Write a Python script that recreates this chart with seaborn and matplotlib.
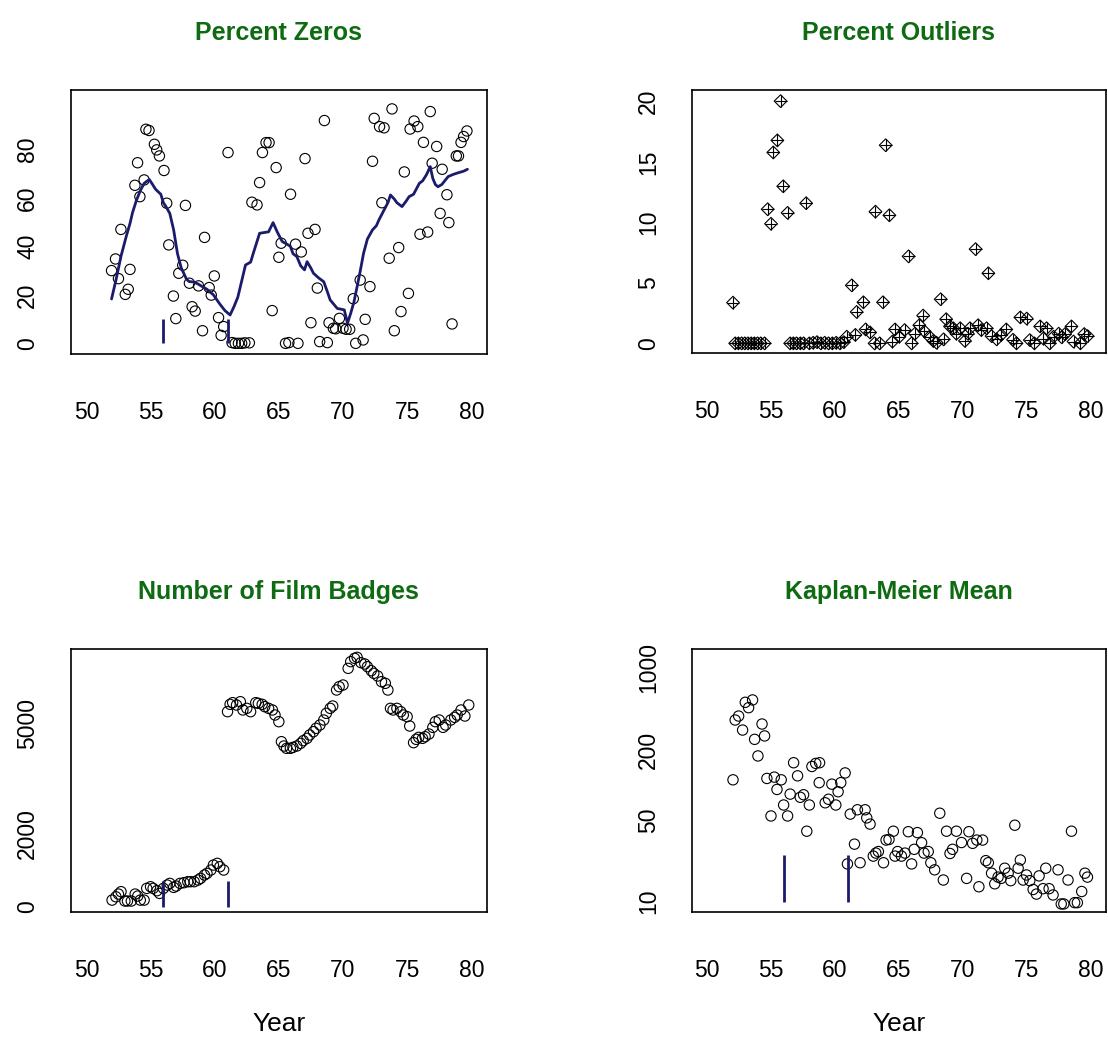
import numpy as np
import pandas as pd
import matplotlib
matplotlib.use("Agg")
import matplotlib.pyplot as plt
import seaborn as sns

# ---- Percent Zeros: quarterly values and running mean ----
zeros_year = [51.96, 52.27, 52.5, 52.69, 53.03, 53.26, 53.4, 53.78, 53.99, 54.17, 54.5, 54.64,
              54.88, 55.3, 55.48, 55.69, 56.05, 56.26, 56.42, 56.78, 56.97, 57.2, 57.51, 57.72,
              58.03, 58.24, 58.48, 58.74, 59.05, 59.21, 59.57, 59.73, 59.97, 60.3, 60.5, 60.7,
              61.04, 61.35, 61.6, 61.85, 62.1, 62.35, 62.7, 62.9, 63.3, 63.5, 63.72, 64.0, 64.24,
              64.48, 64.79, 65.0, 65.18, 65.52, 65.78, 65.91, 66.3, 66.49, 66.75, 67.04, 67.27,
              67.5, 67.82, 68.0, 68.18, 68.55, 68.78, 68.91, 69.25, 69.43, 69.72, 70.0, 70.24,
              70.52, 70.8, 70.99, 71.34, 71.57, 71.73, 72.1, 72.3, 72.43, 72.85, 73.2, 73.03,
              73.6, 73.82, 74.0, 74.34, 74.52, 74.78, 75.1, 75.23, 75.54, 75.83, 76.0, 76.27,
              76.6, 76.8, 76.95, 77.3, 77.73, 77.57, 78.1, 78.25, 78.5, 78.83, 79.0, 79.2, 79.4,
              79.66]
zeros_pct = [30, 34.8, 26.7, 47, 20.2, 22.3, 30.5, 65.2, 74.5, 60.5, 67.4, 88.3,
             87.8, 82.1, 79.8, 77.3, 71.3, 57.8, 40.6, 19.5, 10.2, 28.9, 32.2, 56.9,
             24.8, 15.1, 13.3, 23.7, 5.2, 43.7, 23.0, 19.9, 27.8, 10.6, 3.3, 6.9,
             78.7, 0.3, 0.0, 0.0, 0.0, 0.2, 0.2, 58.2, 57.1, 66.3, 78.7, 82.8, 82.8,
             13.5, 72.5, 35.5, 41.3, 0.0, 0.3, 61.5, 40.9, 0.0, 37.7, 76.2, 45.4,
             8.5, 47.0, 22.8, 0.7, 91.9, 0.3, 8.5, 6.2, 6.0, 10.3, 6.2, 5.8,
             5.8, 18.4, 0.0, 26.1, 1.4, 9.9, 23.4, 75.1, 92.8, 89.4, 88.9, 58.0,
             35.1, 96.7, 5.2, 39.5, 13.1, 70.7, 20.6, 88.4, 91.7, 89.4, 45.0, 82.9,
             45.9, 95.6, 74.3, 81.2, 71.8, 53.6, 61.3, 49.8, 8.0, 77.3, 77.3, 82.9, 85.3,
             87.6]
mean_year = [51.96, 52.3, 52.7, 53.1, 53.4, 53.6, 53.9, 54.2, 54.5, 54.9, 55.1, 55.4, 55.8,
             56.0, 56.2, 56.5, 56.8, 57.1, 57.4, 57.8, 58.0, 58.35, 58.7, 59.0, 59.4, 59.9,
             60.4, 60.8, 61.2, 61.5, 61.8, 62.0, 62.4, 62.8, 63.0, 63.5, 64.2, 64.55, 64.87,
             65.26, 65.6, 65.9, 66.1, 66.4, 66.7, 67.0, 67.2, 67.5, 67.7, 68.1, 68.5, 68.8,
             69.0, 69.3, 69.55, 70.1, 70.35, 70.6, 70.85, 71.1, 71.35, 71.6, 71.9, 72.3,
             72.6, 72.8, 73.2, 73.5, 73.7, 74.0, 74.2, 74.6, 74.9, 75.15, 75.5, 75.95, 76.2,
             76.5, 76.8, 77.0, 77.2, 77.4, 77.7, 78.0, 78.2, 78.6, 79.0, 79.4, 79.7]
mean_pct = [18.3, 26, 36, 44, 49.5, 54, 59, 63, 66, 67.6, 66, 63.5, 61.5,
            58, 56.4, 53.6, 46.8, 37, 31, 26.5, 25.5, 25.3, 24.5, 23.5, 22.3, 20,
            16.2, 13.5, 11.7, 15.1, 19, 23.4, 32.3, 33.5, 37, 45.4, 46, 49.8, 46,
            42, 41, 40, 37, 35.8, 32, 30.3, 33.7, 31, 28.9, 27, 25.4, 21,
            17.9, 16, 14.4, 13.8, 8.3, 12.4, 17, 23.4, 30, 37.1, 43, 46.8,
            48.5, 50.9, 55, 58, 61.2, 59.5, 58, 56.4, 58.5, 60.5, 61.5, 66, 67,
            69.5, 72.9, 68, 65.5, 64.6, 65.5, 67.5, 68.8, 69.7, 70.4, 71, 71.8]

# ---- Percent Outliers ----
out_year = [52.03, 52.2, 52.45, 52.7, 52.95, 53.2, 53.45, 53.7, 53.95, 54.2, 54.5,
            54.74, 55.0, 55.18, 55.5, 55.75, 55.96, 56.3, 56.5, 56.75, 57.0, 57.3, 57.55,
            57.75, 58.0, 58.3, 58.6, 58.9, 59.2, 59.5, 59.8, 60.1, 60.4, 60.7, 60.93,
            61.32, 61.6, 61.7, 62.23, 62.4, 62.75, 63.17, 63.1, 63.5, 63.76, 63.97, 64.26,
            64.5, 64.7, 65.04, 65.45, 65.76, 66.0, 66.26, 66.6, 66.9, 67.0, 67.4, 67.7, 67.95,
            68.27, 68.5, 68.7, 69.0, 69.26, 69.5, 69.8, 70.17, 70.4, 70.56, 71.0, 71.2, 71.45,
            71.86, 72.0, 72.25, 72.65, 73.0, 73.4, 73.93, 74.2, 74.5, 75.0, 75.24, 75.6,
            76.05, 76.3, 76.55, 76.8, 77.1, 77.5, 77.74, 78.0, 78.5, 78.66, 79.2, 79.5, 79.76]
out_pct = [3.37, 0, 0, 0, 0, 0, 0, 0, 0, 0, 0,
           11.1, 9.9, 15.8, 16.8, 20.05, 13.0, 10.8, 0, 0, 0, 0, 0,
           11.6, 0, 0.05, 0.1, 0, 0.05, 0, 0, 0.05, 0, 0.1, 0.55,
           4.8, 0.7, 2.6, 3.4, 1.15, 0.9, 10.9, 0, 0, 3.4, 16.4, 10.6,
           0.15, 1.15, 0.55, 1.1, 7.2, 0, 0.8, 1.5, 2.3, 1.0, 0.55, 0.2, 0.05,
           3.65, 0.33, 2.0, 1.4, 1.25, 0.8, 1.25, 0.2, 0.8, 1.25, 7.8, 1.5, 1.1,
           1.25, 5.8, 0.6, 0.33, 0.7, 1.15, 0.3, 0, 2.15, 2.05, 0.27, 0,
           1.4, 0.4, 1.25, 0, 0.55, 0.8, 0.5, 0.77, 1.4, 0.15, 0, 0.77, 0.6]

# ---- Number of Film Badges ----
badge_year = [52.0, 52.3, 52.5, 52.7, 53.0, 53.2, 53.5, 53.8, 54.0, 54.2, 54.5, 54.7, 55.0,
              55.2, 55.5, 55.7, 56.0, 56.3, 56.5, 56.8, 57.0, 57.3, 57.6, 57.9, 58.1, 58.4,
              58.7, 58.9, 59.2, 59.4, 59.7, 59.9, 60.2, 60.4, 60.7, 61.0, 61.2, 61.4, 61.7,
              62.0, 62.2, 62.5, 62.8, 63.2, 63.4, 63.7, 63.9, 64.2, 64.5, 64.7, 65.0, 65.2,
              65.4, 65.6, 65.9, 66.1, 66.4, 66.7, 66.9, 67.2, 67.4, 67.7, 67.9, 68.2, 68.5,
              68.7, 69.0, 69.2, 69.5, 69.7, 70.0, 70.4, 70.6, 70.9, 71.1, 71.4, 71.7, 71.9,
              72.2, 72.4, 72.7, 73.0, 73.3, 73.5, 73.7, 73.9, 74.2, 74.5, 74.7, 75.0, 75.2,
              75.5, 75.7, 75.9, 76.2, 76.4, 76.7, 77.0, 77.2, 77.5, 77.8, 78.0, 78.4, 78.7,
              78.9, 79.2, 79.5, 79.8]
badge_n = [180, 270, 345, 410, 155, 155, 155, 345, 290, 180, 180, 500, 545,
           500, 436, 363, 500, 590, 636, 527, 563, 636, 655, 682, 682, 682,
           727, 773, 864, 909, 1000, 1136, 1182, 1090, 1000, 5318, 5518, 5564, 5500,
           5590, 5364, 5409, 5318, 5564, 5545, 5518, 5455, 5409, 5364, 5227, 5045, 4500,
           4382, 4318, 4318, 4345, 4382, 4455, 4527, 4591, 4682, 4773, 4864, 4955, 5091,
           5273, 5409, 5473, 5909, 6000, 6045, 6500, 6682, 6773, 6800, 6655, 6618, 6545,
           6436, 6364, 6291, 6136, 6091, 5909, 5409, 5364, 5409, 5318, 5227, 5182, 4927,
           4473, 4564, 4618, 4591, 4636, 4709, 4891, 5045, 5091, 4891, 4955, 5091, 5164,
           5227, 5364, 5200, 5500]

# ---- Kaplan-Meier Mean ----
km_year = [52.03, 52.2, 52.47, 52.78, 52.99, 53.25, 53.56, 53.72, 53.98, 54.3, 54.5, 54.68,
           55.0, 55.26, 55.47, 55.8, 55.99, 56.3, 56.5, 56.77, 57.08, 57.29, 57.55, 57.8,
           58.0, 58.2, 58.5, 58.8, 58.77, 59.24, 59.5, 59.76, 60.07, 60.25, 60.46, 60.8,
           60.98, 61.2, 61.53, 61.76, 61.97, 62.36, 62.49, 62.75, 63.0, 63.2, 63.4, 63.8,
           64.0, 64.23, 64.57, 64.7, 64.9, 65.2, 65.48, 65.74, 66.0, 66.2, 66.45, 66.78,
           66.97, 67.3, 67.5, 67.8, 68.2, 68.48, 68.73, 69.0, 69.2, 69.5, 69.9, 70.3, 70.48,
           70.77, 71.1, 71.26, 71.55, 71.8, 72.0, 72.25, 72.5, 72.76, 73.0, 73.28, 73.55,
           73.75, 74.07, 74.33, 74.5, 74.72, 74.98, 75.24, 75.5, 75.76, 75.97, 76.28, 76.49,
           76.75, 77.06, 77.45, 77.7, 77.9, 78.23, 78.5, 78.75, 78.96, 79.3, 79.55, 79.75]
km_mean = [110, 357, 386, 293, 506, 455, 530, 244, 176, 330, 261, 113,
           54, 116, 91, 110, 67, 54, 83, 154, 119, 78, 82, 40,
           67, 143, 152, 154, 104, 70, 75, 101, 67, 87, 104, 126,
           21, 56, 31, 61, 21.5, 61, 52, 46, 24.5, 26, 26.8, 21.5,
           33.6, 34, 40, 24.5, 26.8, 24.5, 26, 39.6, 21, 28, 38.9, 31.9,
           26, 26.8, 21.5, 18.7, 57, 15.3, 40, 25.8, 28, 40, 32, 15.8, 39.6,
           31.5, 33.6, 13.4, 33.6, 22.4, 21.5, 17.5, 14.2, 16.2, 15.8, 19.3, 17.5,
           15.1, 45, 19.3, 22.7, 15.3, 16.9, 15.1, 12.7, 11.6, 16.6, 12.9, 19.3,
           12.9, 11.4, 18.7, 9.55, 9.55, 15.3, 40, 9.8, 9.8, 12.2, 17.5, 16.2]

# Change-point markers drawn as short vertical bars
zeros_marks = [56.0, 61.0]
zeros_mark_top = 10
badge_marks = [56.0, 61.0]
badge_mark_top = 700
km_marks = [56.0, 61.0]
km_mark_bottom, km_mark_top = 10, 25

year_ticks = [50, 55, 60, 65, 70, 75, 80]

sns.set_theme(style="white")
plt.rcParams["font.family"] = ["Liberation Sans", "DejaVu Sans"]
plt.rcParams["axes.edgecolor"] = "black"
plt.rcParams["axes.linewidth"] = 1.2

NAVY = "#1b1b6b"
TITLE_GREEN = "#0f6b12"
TICK_FS = 16.5
TITLE_FS = 18
LABEL_FS = 19

fig = plt.figure(figsize=(11.08, 10.38), dpi=100)
fig.patch.set_facecolor("white")

W, H = 1108, 1038


def make_ax(left, top, right, bottom):
    return fig.add_axes([left / W, 1 - bottom / H, (right - left) / W, (bottom - top) / H])


ax1 = make_ax(71, 90, 486.7, 354)
ax2 = make_ax(691.7, 90, 1106, 353)
ax3 = make_ax(71, 649.3, 486.7, 911.7)
ax4 = make_ax(691.7, 649, 1106, 911.7)


def style_axis(ax, title, xlabel=None):
    ax.set_xlim(48.8, 81.2)
    ax.set_xticks(year_ticks)
    ax.set_xticklabels([str(t) for t in year_ticks])
    for s in ax.spines.values():
        s.set_visible(True)
        s.set_color("black")
        s.set_linewidth(1.2)
    ax.tick_params(axis="both", which="major", direction="out", length=12, width=1.2,
                   color="black", labelsize=TICK_FS, labelcolor="black")
    ax.tick_params(axis="x", pad=22)
    ax.tick_params(axis="y", pad=11)
    ax.tick_params(which="minor", length=0)
    for lab in ax.get_yticklabels():
        lab.set_rotation(90)
        lab.set_va("center")
    ax.set_title(title, fontsize=TITLE_FS, fontweight="bold", color=TITLE_GREEN, pad=36)
    if xlabel:
        ax.set_xlabel(xlabel, fontsize=LABEL_FS, color="black", labelpad=22)
    else:
        ax.set_xlabel("")
    ax.set_ylabel("")


circle_kw = dict(marker="o", s=55, facecolor="none", edgecolor="black", linewidth=0.8)

# Panel 1: Percent Zeros
sns.scatterplot(x=zeros_year, y=zeros_pct, ax=ax1, **circle_kw)
sns.lineplot(x=mean_year, y=mean_pct, ax=ax1, color=NAVY, linewidth=2.0, sort=False,
             estimator=None)
ax1.vlines(zeros_marks, 0, zeros_mark_top, color=NAVY, linewidth=2.0)
ax1.set_ylim(-4.4, 104.5)
ax1.set_yticks([0, 20, 40, 60, 80, 100])
ax1.set_yticklabels(["0", "20", "40", "60", "80", ""])
style_axis(ax1, "Percent Zeros")

# Panel 2: Percent Outliers (diamond with plus)
sns.scatterplot(x=out_year, y=out_pct, ax=ax2, marker="D", s=42, facecolor="none",
                edgecolor="black", linewidth=0.8)
sns.scatterplot(x=out_year, y=out_pct, ax=ax2, marker="+", s=75, color="black",
                linewidth=0.8)
ax2.set_ylim(-0.8, 20.97)
ax2.set_yticks([0, 5, 10, 15, 20])
ax2.set_yticklabels(["0", "5", "10", "15", "20"])
style_axis(ax2, "Percent Outliers")

# Panel 3: Number of Film Badges
sns.scatterplot(x=badge_year, y=badge_n, ax=ax3, **circle_kw)
ax3.vlines(badge_marks, 0, badge_mark_top, color=NAVY, linewidth=2.0)
ax3.set_ylim(-136, 7019)
badge_ticks = [0, 1000, 2000, 3000, 4000, 5000, 6000, 7000]
ax3.set_yticks(badge_ticks)
ax3.set_yticklabels(["0", "", "2000", "", "", "5000", "", ""])
style_axis(ax3, "Number of Film Badges", "Year")

# Panel 4: Kaplan-Meier Mean on log scale
sns.scatterplot(x=km_year, y=km_mean, ax=ax4, **circle_kw)
ax4.vlines(km_marks, km_mark_bottom, km_mark_top, color=NAVY, linewidth=2.0)
ax4.set_yscale("log")
ax4.set_ylim(8.2, 1445)
km_ticks = [10, 20, 50, 100, 200, 500, 1000]
ax4.set_yticks(km_ticks)
ax4.set_yticklabels(["10", "", "50", "", "200", "", "1000"])
ax4.yaxis.set_minor_locator(matplotlib.ticker.NullLocator())
style_axis(ax4, "Kaplan-Meier Mean", "Year")

fig.savefig("out.png", dpi=100, facecolor="white")
